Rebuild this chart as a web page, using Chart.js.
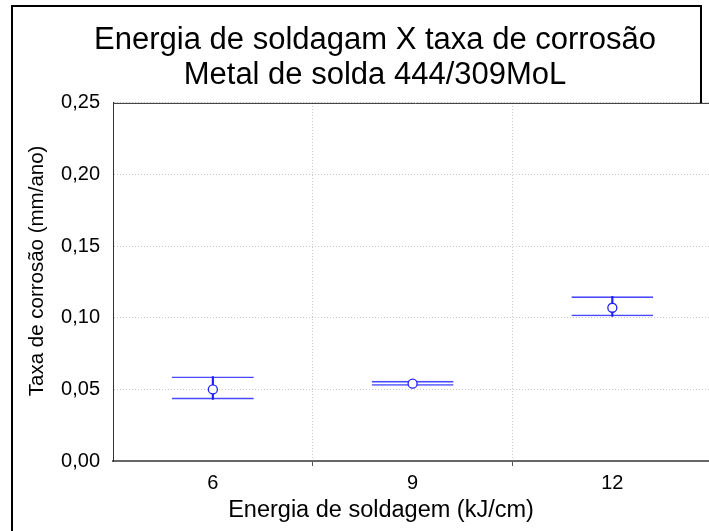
<!DOCTYPE html>
<html>
<head>
<meta charset="utf-8">
<script src="https://cdn.jsdelivr.net/npm/chart.js@4.4.0/dist/chart.umd.min.js"></script>
<style>
  html, body { margin: 0; padding: 0; background: #fff; overflow: hidden; }
  #wrap { width: 718px; height: 531px; }
</style>
</head>
<body>
<div id="wrap"><canvas id="chart" width="718" height="531"></canvas></div>
<script>
// energia de soldagem (kJ/cm)
const categories = ["6", "9", "12"];
// taxa de corrosão (mm/ano): média e limites do intervalo
const means = [0.050, 0.054, 0.107];
const upper = [0.059, 0.056, 0.115];
const lower = [0.043, 0.0525, 0.101];
const yTicks = [0, 0.05, 0.10, 0.15, 0.20, 0.25];
const xTitle = "Energia de soldagem (kJ/cm)";
const yTitle = "Taxa de corrosão (mm/ano)";

const blue = "#2020ff";
const capBlue = "#4848ff";
const font = "'Liberation Sans', Arial, sans-serif";

// moldura da figura e títulos dos eixos (deslocados como no original)
const frame = {
  id: "frame",
  afterDraw(chart) {
    const ctx = chart.ctx;
    const a = chart.chartArea;
    ctx.save();
    ctx.strokeStyle = "#000";
    ctx.lineWidth = 2;
    ctx.beginPath();
    ctx.moveTo(12, 531);
    ctx.lineTo(12, 6);
    ctx.lineTo(701, 6);
    ctx.lineTo(701, a.top);
    ctx.stroke();

    ctx.strokeStyle = "#333";
    ctx.lineWidth = 1;
    ctx.beginPath();
    ctx.moveTo(a.left, a.top + 0.5);
    ctx.lineTo(chart.width, a.top + 0.5);
    ctx.stroke();

    ctx.fillStyle = "#000";
    ctx.textAlign = "center";
    ctx.textBaseline = "middle";
    ctx.font = "23.5px " + font;
    ctx.fillText(xTitle, a.left + 268, a.bottom + 50);
    ctx.translate(37, a.top + 168);
    ctx.rotate(-Math.PI / 2);
    ctx.font = "20.5px " + font;
    ctx.fillText(yTitle, 0, 0);
    ctx.restore();
  }
};

new Chart(document.getElementById("chart"), {
  data: {
    labels: categories,
    datasets: [
      {
        type: "line",
        data: means,
        showLine: false,
        pointRadius: 4.5,
        pointHoverRadius: 4.5,
        pointBorderWidth: 1.3,
        pointBackgroundColor: "#fff",
        pointBorderColor: blue,
        order: 0
      },
      {
        type: "bar",
        data: categories.map((c, i) => [lower[i], upper[i]]),
        grouped: false,
        barThickness: 1.5,
        backgroundColor: blue,
        borderWidth: 0,
        order: 1
      },
      {
        type: "bar",
        data: categories.map((c, i) => [lower[i], upper[i]]),
        grouped: false,
        barPercentage: 0.41,
        categoryPercentage: 1,
        backgroundColor: "rgba(0,0,0,0)",
        borderColor: capBlue,
        borderWidth: { top: 1.6, bottom: 1.6, left: 0, right: 0 },
        borderSkipped: false,
        order: 2
      }
    ]
  },
  options: {
    responsive: false,
    animation: false,
    layout: { padding: { top: 0, left: 32, right: 0, bottom: 6 } },
    plugins: {
      legend: { display: false },
      tooltip: { enabled: false },
      title: {
        display: true,
        text: ["Energia de soldagam X taxa de corrosão", "Metal de solda 444/309MoL"],
        color: "#000",
        font: { family: font, size: 31, weight: "normal", lineHeight: 1.16 },
        padding: { top: 22, bottom: 9 }
      }
    },
    scales: {
      x: {
        type: "category",
        offset: true,
        afterFit: (axis) => { axis.height = 64; },
        grid: {
          offset: true,
          color: "#c8c8c8",
          drawTicks: true,
          tickLength: 5,
          tickColor: (c) => (c.index === 0 ? "rgba(0,0,0,0)" : "#555")
        },
        border: { display: true, color: "#666", width: 2, dash: [1, 2] },
        ticks: { color: "#000", font: { family: font, size: 20 }, padding: 5 },
        title: { display: false }
      },
      y: {
        min: 0,
        max: 0.25,
        afterBuildTicks: (axis) => { axis.ticks = yTicks.map(v => ({ value: v })); },
        afterFit: (axis) => { axis.width = 81; },
        grid: { color: "#c8c8c8", drawTicks: false },
        border: { display: true, color: "#333", width: 1, dash: [1, 2] },
        ticks: {
          color: "#000",
          font: { family: font, size: 20 },
          padding: 13,
          callback: (v) => v.toFixed(2).replace(".", ",")
        },
        title: { display: false }
      }
    }
  },
  plugins: [frame]
});
</script>
</body>
</html>
